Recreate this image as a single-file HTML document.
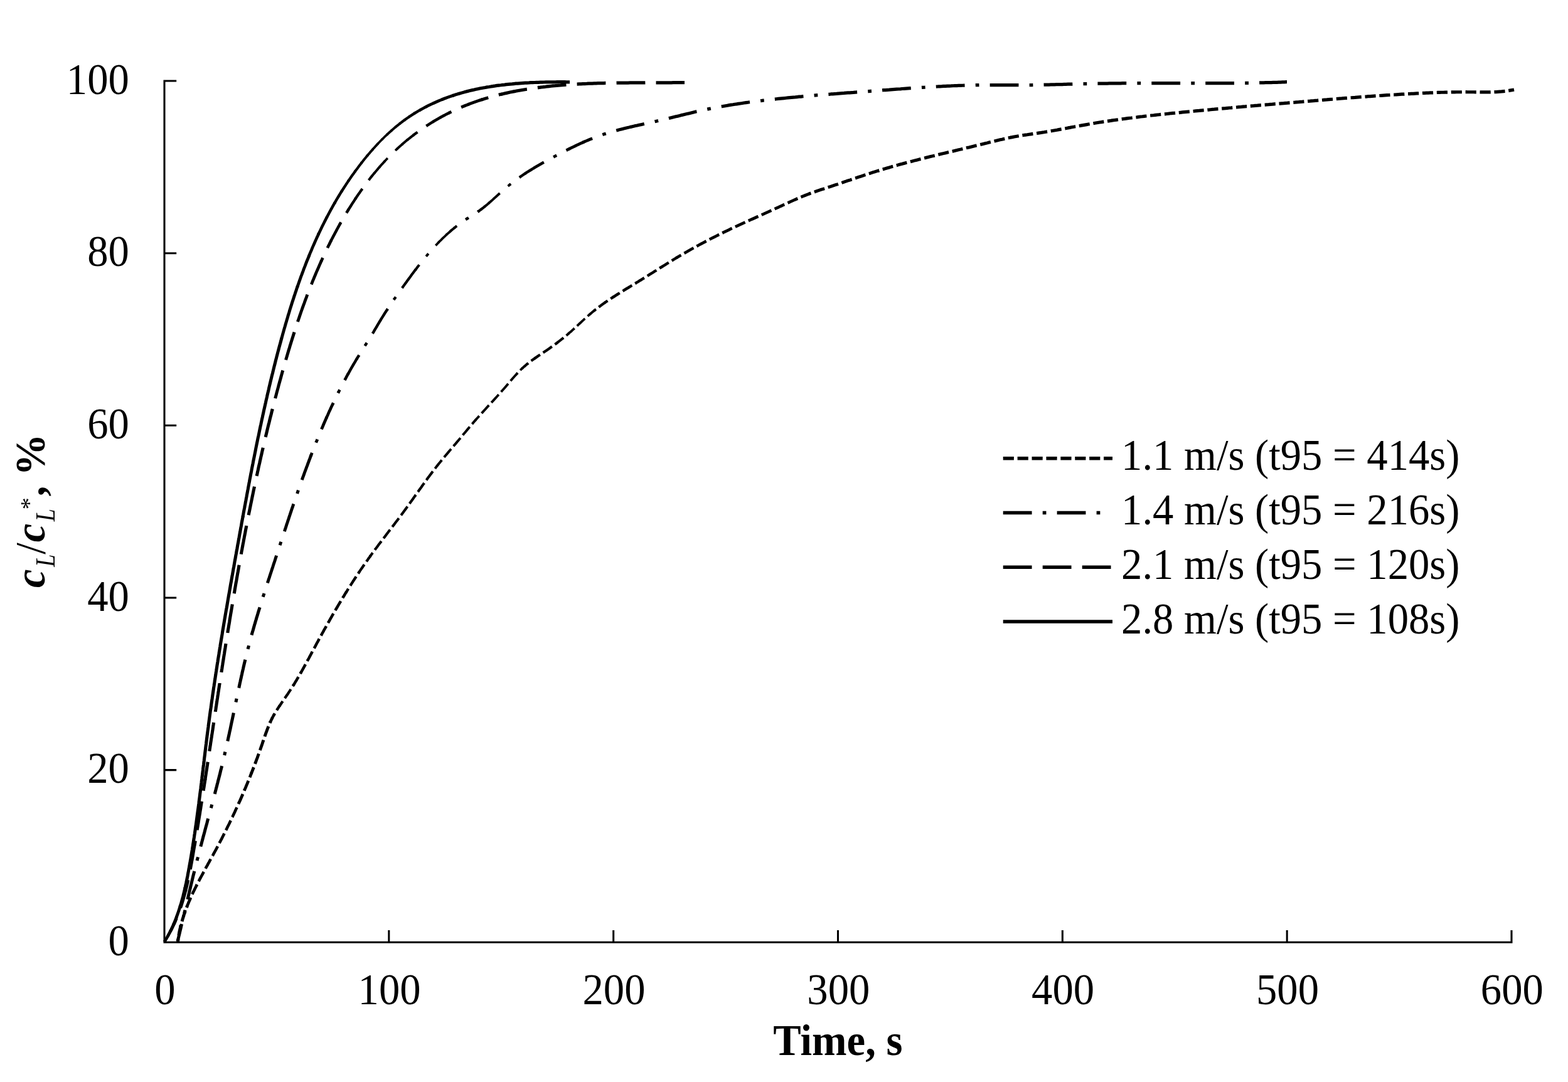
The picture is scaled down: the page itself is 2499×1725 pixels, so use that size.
<!DOCTYPE html>
<html lang="en"><head><meta charset="utf-8"><title>Oxygen saturation curves</title>
<style>html,body{margin:0;padding:0;background:#fff;overflow:hidden}svg{display:block}text{font-family:"Liberation Serif","Times New Roman",serif;fill:#000}.t{font-size:66.67px}.b{font-weight:bold}.i{font-style:italic}.c{fill:none;stroke:#000;stroke-width:5.50;stroke-linejoin:round}.ax{fill:none;stroke:#000;stroke-width:3.05}</style></head><body>
<svg xmlns="http://www.w3.org/2000/svg" width="2499" height="1725" viewBox="0 0 2499 1725">
<rect width="2499" height="1725" fill="#fff"/>
<g>
<path class="ax" stroke-linejoin="miter" d="M281.20 129.00H262.00V1502.30H2409.00V1483.10"/>
<path class="ax" d="M262.00 1227.64h19.20M262.00 952.98h19.20M262.00 678.32h19.20M262.00 403.66h19.20M619.83 1502.30v-19.20M977.67 1502.30v-19.20M1335.50 1502.30v-19.20M1693.33 1502.30v-19.20M2051.17 1502.30v-19.20"/>
<g transform="scale(1 1.0100)" fill="none" stroke="#000" stroke-linejoin="round">
<path stroke-width="5.11" stroke-dasharray="17.18 5.73" stroke-dashoffset="13.36" d="M283.5 1486.1L283.9 1483.2L284.3 1480.3L284.8 1477.3L285.3 1474.4L285.8 1471.5L286.4 1468.6L287.1 1465.7L287.8 1462.8L288.2 1460.8"/>
<path stroke-width="5.00" stroke-dasharray="17.18 5.73" stroke-dashoffset="37.13" d="M287.8 1462.8L288.5 1459.9L289.3 1457.0L290.1 1454.2L290.9 1451.3L291.8 1448.5L292.7 1445.6L293.0 1444.7"/>
<path stroke-width="4.89" stroke-dasharray="17.18 5.73" stroke-dashoffset="53.98" d="M292.4 1446.6L293.3 1443.7L294.3 1440.9L295.3 1438.1L296.3 1435.3L297.4 1432.6L298.5 1429.8"/>
<path stroke-width="4.79" stroke-dasharray="17.18 5.73" stroke-dashoffset="69.84" d="M297.7 1431.6L298.8 1428.9L300.0 1426.1L301.1 1423.4L302.3 1420.7L303.5 1417.9L304.7 1415.2L305.2 1414.3"/>
<path stroke-width="4.68" stroke-dasharray="17.18 5.73" stroke-dashoffset="86.70" d="M304.3 1416.1L305.6 1413.4L306.8 1410.7L308.1 1408.0L309.4 1405.4L310.7 1402.7L312.1 1400.0L313.4 1397.4L314.3 1395.6"/>
<path stroke-width="4.62" stroke-dasharray="17.18 5.73" stroke-dashoffset="107.53" d="M313.4 1397.4L314.8 1394.7L316.1 1392.1L317.5 1389.5L318.9 1386.8L320.3 1384.2L321.8 1381.6L323.2 1379.0L324.6 1376.4L326.0 1373.8L327.5 1371.1L328.9 1368.5L330.4 1365.9L331.8 1363.3L333.3 1360.7L334.7 1358.1L336.2 1355.5L337.6 1352.9L339.1 1350.3L340.5 1347.7L341.9 1345.1L343.4 1342.5L344.8 1339.9L346.2 1337.3L347.6 1334.6L349.0 1332.0L350.4 1329.4L351.8 1326.7L353.2 1324.1L354.5 1321.5L355.9 1318.8L357.2 1316.2L358.6 1313.5L359.9 1310.9L361.3 1308.2L362.6 1305.5L363.9 1302.9L365.3 1300.2L366.6 1297.5L367.9 1294.9L369.2 1292.2L370.5 1289.5L371.7 1286.8L373.0 1284.1L374.3 1281.4L375.5 1278.7L376.8 1276.0L378.1 1273.3L379.3 1270.6"/>
<path stroke-width="4.79" stroke-dasharray="17.18 5.73" stroke-dashoffset="248.43" d="M378.5 1272.4L379.7 1269.7L380.9 1267.0L382.2 1264.3L383.4 1261.6L384.6 1258.9L385.8 1256.2L387.0 1253.4L388.2 1250.7L389.3 1248.0L390.5 1245.2L391.7 1242.5L392.8 1239.8L394.0 1237.0L395.1 1234.3L396.3 1231.5L397.4 1228.8L398.5 1226.0L399.6 1223.2L400.7 1220.5L401.1 1219.6"/>
<path stroke-width="4.88" stroke-dasharray="17.18 5.73" stroke-dashoffset="303.97" d="M400.3 1221.4L401.4 1218.6L402.5 1215.9L403.6 1213.1L404.7 1210.3L405.8 1207.6L406.8 1204.8L407.9 1202.0L408.9 1199.2L410.0 1196.4L411.0 1193.6L412.0 1190.8L413.0 1188.0L414.0 1185.2L415.0 1182.4L416.0 1179.6L417.0 1176.8L418.0 1174.0L418.9 1171.2L419.9 1168.4L420.9 1165.6L421.9 1162.8L422.8 1160.0L423.8 1157.2L424.9 1154.4L425.9 1151.6L427.0 1148.8L428.1 1146.1L429.2 1143.3L430.4 1140.6L431.2 1138.8"/>
<path stroke-width="4.68" stroke-dasharray="17.18 5.73" stroke-dashoffset="390.22" d="M430.4 1140.6L431.7 1137.9L433.0 1135.2L434.3 1132.6"/>
<path stroke-width="4.58" stroke-dasharray="17.18 5.73" stroke-dashoffset="397.16" d="M433.4 1134.3L434.8 1131.7L436.2 1129.1L437.2 1127.3"/>
<path stroke-width="4.47" stroke-dasharray="17.18 5.73" stroke-dashoffset="403.12" d="M436.2 1129.1L437.7 1126.5L439.2 1123.9L440.8 1121.4"/>
<path stroke-width="4.37" stroke-dasharray="17.18 5.73" stroke-dashoffset="410.06" d="M439.8 1123.1L441.4 1120.6L443.0 1118.1L444.6 1115.6L446.3 1113.1"/>
<path stroke-width="4.32" stroke-dasharray="17.18 5.73" stroke-dashoffset="420.00" d="M445.2 1114.8L446.9 1112.3L448.5 1109.9L450.3 1107.4L452.0 1105.0L453.7 1102.5L455.4 1100.1L457.1 1097.6L458.8 1095.2L460.4 1092.7L462.1 1090.2L463.7 1087.7L465.3 1085.2L466.9 1082.7L468.5 1080.2"/>
<path stroke-width="4.47" stroke-dasharray="17.18 5.73" stroke-dashoffset="459.73" d="M467.5 1081.9L469.1 1079.4L470.6 1076.8L472.2 1074.3L473.7 1071.7L475.2 1069.2L476.7 1066.6L478.2 1064.0L479.7 1061.4L480.2 1060.6"/>
<path stroke-width="4.53" stroke-dasharray="17.18 5.73" stroke-dashoffset="482.56" d="M479.2 1062.3L480.7 1059.7L482.2 1057.1L483.6 1054.5L485.1 1051.9L486.5 1049.3L488.0 1046.7L489.4 1044.1L490.8 1041.5L492.3 1038.9L493.7 1036.3L495.1 1033.7L496.5 1031.1L497.9 1028.4L499.4 1025.8L500.8 1023.2L502.2 1020.6L503.6 1018.0L505.0 1015.3L506.5 1012.7L507.9 1010.1L509.3 1007.5L510.8 1004.9L512.2 1002.3L513.6 999.7L515.1 997.1L516.5 994.5L518.0 991.9L519.5 989.3L520.9 986.7L522.4 984.1L523.9 981.5L525.4 979.0L526.8 976.4L528.3 973.8L529.8 971.2L531.3 968.6L532.8 966.1L534.3 963.5L535.9 960.9L537.4 958.4L538.9 955.8L540.4 953.3L542.0 950.7L543.5 948.2L545.1 945.6L546.6 943.1L548.2 940.6L549.7 938.0L551.3 935.5L552.4 933.8"/>
<path stroke-width="4.37" stroke-dasharray="17.18 5.73" stroke-dashoffset="628.47" d="M551.3 935.5L552.9 933.0L554.5 930.4L556.1 927.9L557.7 925.4L559.3 922.9L560.9 920.4L562.5 917.9L564.2 915.4L565.8 912.9L567.5 910.4L569.1 908.0L570.8 905.5L572.4 903.0L573.0 902.2"/>
<path stroke-width="4.27" stroke-dasharray="17.18 5.73" stroke-dashoffset="666.21" d="M571.9 903.8L573.5 901.4L575.2 898.9L576.9 896.5L578.6 894.0L580.3 891.6L582.0 889.1L583.8 886.7L585.5 884.3L587.2 881.8L589.0 879.4L590.7 877.0"/>
<path stroke-width="4.18" stroke-dasharray="17.18 5.73" stroke-dashoffset="697.00" d="M589.5 878.6L591.3 876.2L593.1 873.8L594.8 871.4L596.6 869.0L598.4 866.6L600.2 864.3L602.0 861.9L603.8 859.5L605.6 857.1L607.4 854.8L609.2 852.4L611.0 850.0L612.9 847.7L614.7 845.3L616.5 842.9L618.3 840.6L620.1 838.2L622.0 835.9L623.8 833.5L625.6 831.1L627.4 828.8L629.2 826.4L631.0 824.0L632.9 821.7L634.7 819.3L636.5 816.9L638.3 814.5L640.1 812.2L641.8 809.8L643.6 807.4L645.4 805.0L647.2 802.6L648.9 800.2L650.7 797.8L652.4 795.4L654.2 792.9L655.9 790.5L657.7 788.1L659.4 785.7L661.1 783.3L662.9 780.9L664.6 778.4L666.4 776.0L668.1 773.6L669.8 771.2L671.6 768.8L673.3 766.3L675.1 763.9L676.8 761.5L678.6 759.1L680.4 756.7L682.1 754.3L683.9 751.9L685.7 749.5L687.5 747.2L689.3 744.8L691.1 742.4L693.0 740.1L693.6 739.3"/>
<path stroke-width="4.06" stroke-dasharray="17.18 5.73" stroke-dashoffset="868.91" d="M692.4 740.9L694.2 738.5L696.0 736.2L697.9 733.8L699.8 731.5L701.7 729.2L703.6 726.9L705.5 724.6"/>
<path stroke-width="3.98" stroke-dasharray="17.18 5.73" stroke-dashoffset="887.80" d="M704.2 726.1L706.1 723.9L708.0 721.6L709.9 719.3L711.9 717.0L713.8 714.7L715.7 712.5L717.7 710.2L719.6 708.0L721.6 705.7L723.5 703.4L725.5 701.2L727.4 698.9L729.3 696.6L731.3 694.3L733.2 692.1L735.1 689.8L737.0 687.5L738.9 685.2L740.9 682.9L742.8 680.6L744.7 678.4L746.6 676.1L748.6 673.8L750.5 671.6L752.5 669.3L754.4 667.0L756.4 664.8L758.3 662.6"/>
<path stroke-width="3.88" stroke-dasharray="17.18 5.73" stroke-dashoffset="969.33" d="M757.0 664.0L759.0 661.8L761.0 659.6L763.0 657.4L765.0 655.2L767.0 653.0L769.0 650.8L771.0 648.6L773.1 646.4L775.1 644.2L777.1 642.0L779.2 639.8L781.2 637.6L783.2 635.4L785.3 633.3L787.3 631.1L789.3 628.9L791.3 626.7L793.3 624.5L795.3 622.3L797.3 620.1L799.3 617.8L801.3 615.6L803.3 613.4L805.3 611.1L807.2 608.9L809.1 606.6L811.1 604.3L813.0 602.1L815.0 599.8L816.9 597.5L818.9 595.3L820.9 593.1L822.9 590.9L824.9 588.7"/>
<path stroke-width="3.74" stroke-dasharray="17.18 5.73" stroke-dashoffset="1068.79" d="M823.6 590.2L825.6 588.0L827.7 585.8L829.1 584.4"/>
<path stroke-width="3.74" stroke-dasharray="17.18 5.73" stroke-dashoffset="1074.76" d="M827.7 585.8L829.8 583.7L832.0 581.7L833.5 580.3"/>
<path stroke-width="3.87" stroke-dasharray="17.18 5.73" stroke-dashoffset="1080.73" d="M832.0 581.7L834.2 579.7L836.5 577.7L837.2 577.1"/>
<path stroke-width="3.99" stroke-dasharray="17.18 5.73" stroke-dashoffset="1085.71" d="M835.7 578.4L838.0 576.4L840.3 574.5L841.1 573.9"/>
<path stroke-width="4.10" stroke-dasharray="17.18 5.73" stroke-dashoffset="1090.69" d="M839.5 575.2L841.9 573.3L844.2 571.5L845.8 570.3"/>
<path stroke-width="4.21" stroke-dasharray="17.18 5.73" stroke-dashoffset="1096.67" d="M844.2 571.5L846.6 569.7L849.1 567.9L851.5 566.2L853.1 565.1"/>
<path stroke-width="4.26" stroke-dasharray="17.18 5.73" stroke-dashoffset="1105.63" d="M851.5 566.2L854.0 564.5L856.4 562.8L858.9 561.2L861.4 559.5L863.9 557.9L866.4 556.2L868.9 554.5L871.3 552.9L873.8 551.2L876.3 549.5L878.7 547.8L881.2 546.0L883.6 544.3L886.0 542.5L888.4 540.7"/>
<path stroke-width="4.10" stroke-dasharray="17.18 5.73" stroke-dashoffset="1148.50" d="M886.8 541.9L889.2 540.1L891.6 538.3L893.9 536.5L896.3 534.6L898.6 532.8"/>
<path stroke-width="4.00" stroke-dasharray="17.18 5.73" stroke-dashoffset="1161.45" d="M897.1 534.0L899.4 532.2L901.7 530.3L904.0 528.4L906.3 526.4L907.1 525.8"/>
<path stroke-width="3.89" stroke-dasharray="17.18 5.73" stroke-dashoffset="1172.41" d="M905.5 527.1L907.8 525.1L910.1 523.2L912.3 521.2L914.5 519.2L916.0 517.9"/>
<path stroke-width="3.84" stroke-dasharray="17.18 5.73" stroke-dashoffset="1184.36" d="M914.5 519.2L916.7 517.2L919.0 515.2L921.1 513.2L923.3 511.1L925.5 509.1L927.7 507.1L929.9 505.1L932.1 503.1L934.4 501.1L936.6 499.1L938.9 497.1L941.1 495.2"/>
<path stroke-width="4.00" stroke-dasharray="17.18 5.73" stroke-dashoffset="1218.21" d="M939.6 496.5L941.9 494.5L944.2 492.6L946.5 490.7L948.1 489.5"/>
<path stroke-width="4.10" stroke-dasharray="17.18 5.73" stroke-dashoffset="1227.17" d="M946.5 490.7L948.8 488.9L951.2 487.1L953.6 485.3L955.2 484.1"/>
<path stroke-width="4.21" stroke-dasharray="17.18 5.73" stroke-dashoffset="1236.14" d="M953.6 485.3L956.0 483.5L958.4 481.7L960.8 480.0L963.3 478.2L964.9 477.1"/>
<path stroke-width="4.31" stroke-dasharray="17.18 5.73" stroke-dashoffset="1248.10" d="M963.3 478.2L965.7 476.5L968.2 474.9L970.7 473.2L973.2 471.6L975.7 469.9L978.2 468.3"/>
<path stroke-width="4.42" stroke-dasharray="17.18 5.73" stroke-dashoffset="1264.05" d="M976.5 469.4L979.1 467.8L981.6 466.2L984.1 464.6L986.7 463.0L989.2 461.4L991.8 459.9L994.3 458.3L996.9 456.7L999.4 455.2L1002.0 453.7L1004.6 452.1L1007.1 450.6L1009.7 449.0L1012.2 447.5L1014.8 445.9L1017.4 444.4L1019.9 442.8L1022.5 441.3L1025.0 439.7L1027.6 438.1L1030.1 436.6L1032.7 435.0L1035.2 433.4L1037.7 431.8L1040.3 430.3L1042.8 428.7L1045.4 427.1L1047.9 425.5L1050.4 423.9L1053.0 422.3L1055.5 420.8L1058.1 419.2L1060.6 417.6L1063.2 416.0L1065.7 414.5L1068.3 412.9L1070.8 411.4L1073.4 409.8L1075.9 408.3L1078.5 406.7L1079.4 406.2"/>
<path stroke-width="4.51" stroke-dasharray="17.18 5.73" stroke-dashoffset="1382.73" d="M1077.7 407.3L1080.2 405.7L1082.8 404.2L1085.4 402.7L1088.0 401.2L1090.6 399.7L1093.2 398.2L1095.8 396.8L1098.4 395.3L1101.0 393.8L1103.6 392.4L1106.3 390.9L1108.9 389.5L1111.5 388.1"/>
<path stroke-width="4.61" stroke-dasharray="17.18 5.73" stroke-dashoffset="1419.65" d="M1109.8 389.0L1112.4 387.6L1115.0 386.2L1117.7 384.8L1120.3 383.4L1123.0 382.0L1125.6 380.6L1128.3 379.2L1130.9 377.9L1133.6 376.5L1136.3 375.1L1139.0 373.8L1141.6 372.5L1144.3 371.1L1147.0 369.8L1149.7 368.5"/>
<path stroke-width="4.73" stroke-dasharray="17.18 5.73" stroke-dashoffset="1462.56" d="M1147.9 369.4L1150.6 368.1L1153.3 366.8L1156.0 365.5L1158.7 364.2L1161.4 362.9L1164.1 361.6L1166.8 360.3L1169.5 359.1L1172.3 357.8L1175.0 356.6L1177.7 355.3L1180.4 354.1L1183.1 352.8L1185.9 351.6L1188.6 350.4L1191.3 349.2L1194.1 347.9L1196.8 346.7L1199.5 345.5L1202.3 344.3L1205.0 343.1L1207.8 341.8L1210.5 340.6L1213.2 339.4L1216.0 338.2L1218.7 337.0L1221.4 335.8L1224.2 334.5L1226.9 333.3L1229.6 332.1L1232.4 330.9L1235.1 329.6L1237.8 328.4L1240.6 327.2L1243.3 325.9L1246.0 324.7L1248.7 323.4L1251.5 322.2L1254.2 320.9L1256.9 319.7L1259.6 318.4L1262.4 317.2L1265.1 316.0L1267.8 314.8L1270.6 313.6L1271.5 313.2"/>
<path stroke-width="4.82" stroke-dasharray="17.18 5.73" stroke-dashoffset="1596.34" d="M1269.7 314.0L1272.4 312.8L1275.2 311.6L1278.0 310.5L1280.7 309.4L1283.5 308.3L1286.3 307.2L1289.1 306.1L1291.0 305.4"/>
<path stroke-width="4.93" stroke-dasharray="17.18 5.73" stroke-dashoffset="1617.31" d="M1289.1 306.1L1291.9 305.1L1294.7 304.1L1297.6 303.1L1300.4 302.1L1303.2 301.1L1306.1 300.2L1308.9 299.2L1311.8 298.3L1314.6 297.4L1317.5 296.4L1320.3 295.5L1323.2 294.6L1326.0 293.7L1328.9 292.7L1331.7 291.8L1334.6 290.9L1337.4 289.9L1340.3 289.0L1343.1 288.0L1345.9 287.0L1348.8 286.1L1351.6 285.1L1354.5 284.2L1357.3 283.2L1360.1 282.3L1363.0 281.3L1365.8 280.4L1368.7 279.4L1371.5 278.5L1374.4 277.5L1377.2 276.6L1380.1 275.7L1382.9 274.7L1385.8 273.8L1388.6 272.9L1391.5 272.0L1394.3 271.1L1397.2 270.2L1400.1 269.4L1401.0 269.1"/>
<path stroke-width="5.04" stroke-dasharray="17.18 5.73" stroke-dashoffset="1733.21" d="M1399.1 269.7L1402.0 268.8L1404.9 267.9L1407.7 267.1L1410.6 266.2L1413.5 265.4L1416.4 264.6L1419.2 263.7L1422.1 262.9L1425.0 262.1L1427.9 261.3L1430.8 260.5L1433.7 259.7L1436.6 259.0L1439.5 258.2L1442.4 257.4L1445.3 256.6L1448.2 255.9L1451.1 255.1L1454.0 254.4L1456.9 253.6L1459.8 252.9L1462.7 252.2L1465.6 251.4L1468.5 250.7L1471.4 250.0L1474.3 249.3L1477.2 248.5L1480.2 247.8L1483.1 247.1L1486.0 246.4L1488.9 245.7L1491.8 245.0L1494.7 244.3L1497.6 243.6L1500.6 242.9L1503.5 242.2L1506.4 241.5L1509.3 240.8L1512.2 240.1L1515.2 239.4L1518.1 238.8L1521.0 238.1L1523.9 237.4L1526.8 236.7L1529.7 236.0L1532.7 235.3L1535.6 234.6L1538.5 233.9L1541.4 233.2L1544.3 232.6L1547.3 231.9L1550.2 231.2L1553.1 230.5L1556.0 229.8L1558.9 229.1L1561.8 228.4L1564.8 227.7L1567.7 227.0L1570.6 226.3L1573.5 225.6L1576.4 224.8L1579.3 224.1L1582.2 223.4L1585.2 222.7L1588.1 222.0L1591.0 221.3L1593.9 220.6L1596.8 220.0L1599.8 219.3L1600.7 219.1"/>
<path stroke-width="5.14" stroke-dasharray="17.18 5.73" stroke-dashoffset="1939.10" d="M1598.8 219.5L1601.7 218.9L1604.6 218.2L1607.6 217.6L1610.5 217.0L1613.5 216.5L1616.4 215.9L1619.4 215.4L1622.3 214.9L1625.3 214.4L1628.2 213.9L1631.2 213.4L1634.2 213.0L1637.1 212.6L1640.1 212.1L1643.1 211.7L1646.0 211.3L1649.0 210.9L1652.0 210.4L1654.9 210.0L1657.9 209.6L1660.9 209.1L1663.8 208.7L1666.8 208.2L1669.8 207.7L1672.7 207.2L1675.7 206.7L1678.6 206.2L1681.6 205.7L1684.5 205.2L1687.5 204.6L1690.4 204.1L1693.4 203.6L1696.3 203.0L1699.3 202.5L1702.2 201.9L1705.2 201.4L1708.1 200.8L1711.1 200.3L1714.0 199.7L1717.0 199.2L1719.9 198.7L1722.9 198.1L1725.8 197.6L1728.8 197.1L1731.8 196.6L1734.7 196.1L1737.7 195.6L1740.6 195.1L1743.6 194.6L1746.5 194.1L1749.5 193.6L1752.5 193.1L1755.4 192.7L1758.4 192.2L1761.4 191.8L1764.3 191.3L1767.3 190.9L1770.3 190.5L1773.2 190.0L1776.2 189.6L1779.2 189.2L1782.1 188.8L1785.1 188.4L1788.1 188.0L1791.1 187.6L1794.0 187.2L1797.0 186.8L1800.0 186.4L1803.0 186.1L1805.9 185.7L1808.9 185.3L1811.9 185.0L1814.9 184.6L1817.9 184.2L1820.8 183.9L1823.8 183.5L1826.8 183.2L1829.8 182.9L1832.8 182.5L1835.7 182.2L1838.7 181.9L1841.7 181.5L1844.7 181.2L1847.7 180.9L1850.7 180.6L1853.6 180.3L1856.6 180.0L1859.6 179.7L1862.6 179.4L1865.6 179.0L1868.6 178.7"/>
<path stroke-width="5.18" stroke-dasharray="17.18 5.73" stroke-dashoffset="2210.06" d="M1866.6 178.9L1869.6 178.6L1872.5 178.4L1875.5 178.1L1878.5 177.8L1881.5 177.5L1884.5 177.2L1887.5 176.9L1890.5 176.6L1893.4 176.3L1896.4 176.0L1899.4 175.8L1902.4 175.5L1905.4 175.2L1908.4 174.9L1911.4 174.7L1914.3 174.4L1917.3 174.1L1920.3 173.8L1923.3 173.6L1926.3 173.3L1929.3 173.0L1932.3 172.7L1935.3 172.5L1938.3 172.2L1941.2 171.9L1944.2 171.7L1947.2 171.4L1950.2 171.1L1953.2 170.9L1956.2 170.6L1959.2 170.3L1962.2 170.1L1965.1 169.8L1968.1 169.6L1971.1 169.3L1974.1 169.0L1977.1 168.8L1980.1 168.5L1983.1 168.3L1986.1 168.0L1989.1 167.8L1992.0 167.5L1995.0 167.2L1998.0 167.0L2001.0 166.7L2004.0 166.5L2007.0 166.2L2010.0 166.0L2013.0 165.7L2016.0 165.5L2018.9 165.2L2021.9 165.0L2024.9 164.7L2027.9 164.5L2030.9 164.2L2033.9 164.0L2036.9 163.7L2039.9 163.5L2042.9 163.2L2045.9 163.0L2048.8 162.7L2051.8 162.5L2054.8 162.2L2057.8 162.0L2060.8 161.7L2063.8 161.5L2066.8 161.2L2069.8 161.0L2072.8 160.7L2075.8 160.5L2078.7 160.2L2081.7 160.0L2084.7 159.7L2087.7 159.5L2090.7 159.2L2093.7 159.0L2096.7 158.7L2099.7 158.5L2102.7 158.2L2105.7 158.0L2108.6 157.8L2111.6 157.5L2114.6 157.3L2117.6 157.0L2120.6 156.8L2123.6 156.6L2126.6 156.3L2129.6 156.1L2132.6 155.8L2135.6 155.6L2138.5 155.4L2141.5 155.1L2144.5 154.9L2147.5 154.7L2150.5 154.4L2153.5 154.2L2156.5 154.0L2159.5 153.8L2162.5 153.5L2165.5 153.3L2168.5 153.1L2171.5 152.9L2174.4 152.7L2177.4 152.5L2180.4 152.2L2183.4 152.0L2186.4 151.8L2189.4 151.6L2192.4 151.4L2195.4 151.2L2198.4 151.0L2201.4 150.8L2204.4 150.6L2207.4 150.4L2210.4 150.2L2213.4 150.0L2216.4 149.8L2219.3 149.6L2222.3 149.5L2225.3 149.3L2228.3 149.1L2231.3 148.9L2234.3 148.7L2237.3 148.6L2240.3 148.4L2243.3 148.2L2246.3 148.1L2249.3 147.9L2252.3 147.8L2255.3 147.6L2258.3 147.4L2261.3 147.3L2264.3 147.2L2267.3 147.0L2270.3 146.9L2273.3 146.7L2276.3 146.6L2279.3 146.5L2282.3 146.4L2285.3 146.3L2288.3 146.1L2291.3 146.0L2294.3 145.9L2297.3 145.8L2300.3 145.8L2303.3 145.7L2306.3 145.6L2309.3 145.5L2312.3 145.5L2315.3 145.4L2318.3 145.4L2321.3 145.3L2324.3 145.3L2327.3 145.3L2330.3 145.3L2333.3 145.2L2336.3 145.2L2339.3 145.3L2342.3 145.3L2345.3 145.3L2348.3 145.3L2351.3 145.4L2354.3 145.4L2357.3 145.4L2360.3 145.5L2363.3 145.5L2366.3 145.5L2369.3 145.5L2372.3 145.5L2375.3 145.4L2378.3 145.3L2381.3 145.2L2384.2 145.1L2387.2 144.9L2390.2 144.7L2393.2 144.5L2396.2 144.2L2399.2 143.9L2402.2 143.5L2405.1 143.0L2408.1 142.5L2411.0 142.0L2413.0 141.6"/>
<path stroke-width="5.05" stroke-dasharray="45.82 17.18 5.73 17.18" stroke-dashoffset="17.53" d="M283.0 1486.1L283.7 1483.2L284.4 1480.4L285.1 1477.5L285.8 1474.6L286.5 1471.7L287.2 1468.8L287.9 1465.9L288.6 1463.0L289.2 1460.1L289.9 1457.2L290.6 1454.3L291.3 1451.4L292.0 1448.6L292.7 1445.7L293.4 1442.8L294.1 1439.9L294.8 1437.0L295.4 1434.1L296.1 1431.2L296.8 1428.3L297.5 1425.4L298.2 1422.5L298.9 1419.6L299.6 1416.7L300.3 1413.9L301.0 1411.0L301.7 1408.1L302.4 1405.2L303.1 1402.3L303.8 1399.4L304.5 1396.5L305.2 1393.6L305.9 1390.7L306.6 1387.9L307.3 1385.0L308.0 1382.1L308.8 1379.2L309.5 1376.3L310.2 1373.4L310.9 1370.5L311.7 1367.7L312.4 1364.8L313.1 1361.9L313.9 1359.0L314.6 1356.1L315.4 1353.3L316.1 1350.4L316.9 1347.5L317.6 1344.6L318.4 1341.8L319.1 1338.9L319.9 1336.0L320.7 1333.1L321.4 1330.3L322.2 1327.4L323.0 1324.5L323.7 1321.6L324.5 1318.8L325.3 1315.9L326.1 1313.0L326.8 1310.2L327.6 1307.3L328.4 1304.4L329.2 1301.6L330.0 1298.7L330.7 1295.8L331.5 1292.9L332.3 1290.1L333.1 1287.2L333.9 1284.3L334.6 1281.5L335.4 1278.6L336.2 1275.7L337.0 1272.9L337.7 1270.0L338.5 1267.1L339.3 1264.2L340.1 1261.4L340.8 1258.5L341.6 1255.6L342.4 1252.8L343.1 1249.9L343.9 1247.0L344.6 1244.1L345.4 1241.3L346.1 1238.4L346.9 1235.5L347.6 1232.6L348.4 1229.7L349.1 1226.9L349.9 1224.0L350.6 1221.1L351.3 1218.2L352.0 1215.3L352.8 1212.5L353.5 1209.6L354.2 1206.7L354.9 1203.8L355.6 1200.9L356.3 1198.0L357.0 1195.1L357.7 1192.2L358.3 1189.3L359.0 1186.4L359.7 1183.5L360.4 1180.6L361.0 1177.7L361.7 1174.8L362.3 1171.9L363.0 1169.0L363.6 1166.1L364.2 1163.2L364.9 1160.3L365.5 1157.4L366.1 1154.5L366.8 1151.6L367.4 1148.7L368.0 1145.8L368.6 1142.9L369.2 1140.0L369.9 1137.1L370.5 1134.2L371.1 1131.3L371.7 1128.4L372.3 1125.4L372.9 1122.5L373.5 1119.6L374.2 1116.7L374.8 1113.8L375.4 1110.9L376.0 1108.0L376.6 1105.1L377.2 1102.2L377.8 1099.3L378.5 1096.4L379.1 1093.5L379.7 1090.5L380.3 1087.6L381.0 1084.7L381.6 1081.8L382.2 1078.9L382.9 1076.0L383.5 1073.1L384.2 1070.2L384.8 1067.3L385.5 1064.4L386.1 1061.5L386.8 1058.6L387.5 1055.7L388.1 1052.8L388.8 1049.9L389.5 1047.0L390.2 1044.2L390.9 1041.3L391.6 1038.4L392.3 1035.5L393.0 1032.6L393.8 1029.7L394.5 1026.8L395.2 1024.0L396.0 1021.1L396.7 1018.2L397.5 1015.3L398.3 1012.5L399.1 1009.6L399.8 1006.7L400.6 1003.9L401.4 1001.0L402.2 998.1L403.1 995.3L403.9 992.4L404.7 989.6L405.5 986.7L406.4 983.9L407.2 981.0L408.1 978.2L408.9 975.3L409.8 972.5L410.7 969.6L411.5 966.8L412.4 963.9L413.3 961.1L414.2 958.2L415.0 955.4L415.9 952.6L416.8 949.7L417.7 946.9L418.6 944.1L419.5 941.2"/>
<path stroke-width="4.92" stroke-dasharray="45.82 17.18 5.73 17.18" stroke-dashoffset="577.48" d="M418.9 943.1L419.8 940.3L420.8 937.5L421.7 934.6L422.6 931.8L423.5 929.0L424.4 926.1L425.4 923.3L426.3 920.5L427.2 917.7L428.1 914.8L429.1 912.0L430.0 909.2L430.9 906.4L431.9 903.5L432.8 900.7L433.7 897.9L434.7 895.1L435.6 892.2L436.5 889.4L437.5 886.6L438.4 883.8L439.3 880.9L440.3 878.1L441.2 875.3L442.2 872.5L443.1 869.7L444.0 866.8L445.0 864.0L445.9 861.2L446.8 858.4L447.8 855.5L448.7 852.7L449.6 849.9L450.6 847.1L451.5 844.2L452.4 841.4L453.4 838.6L454.3 835.8L455.3 833.0L456.2 830.1L457.1 827.3L458.1 824.5L459.0 821.7L460.0 818.9L460.9 816.0L461.9 813.2L462.8 810.4L463.8 807.6L464.7 804.8L465.7 801.9L466.7 799.1L467.6 796.3L468.6 793.5L469.6 790.7L470.5 787.9L471.5 785.1L472.5 782.3L473.5 779.5L474.5 776.6L475.4 773.8L476.4 771.0L477.4 768.2L478.4 765.4L479.4 762.6L480.4 759.8L481.4 757.0L482.4 754.2L483.5 751.4L484.5 748.6L485.5 745.8L486.5 743.1L487.6 740.3L488.6 737.5L489.7 734.7L490.7 731.9L491.8 729.1L492.8 726.3L493.9 723.6L494.9 720.8L496.0 718.0"/>
<path stroke-width="4.81" stroke-dasharray="45.82 17.18 5.73 17.18" stroke-dashoffset="813.45" d="M495.3 719.9L496.4 717.1L497.4 714.3L498.5 711.5L499.6 708.8L500.7 706.0L501.8 703.2L502.9 700.5L504.0 697.7L505.2 695.0L506.3 692.2L507.4 689.5L508.6 686.7L509.7 684.0L510.9 681.2L512.0 678.5L513.2 675.7L514.4 673.0L515.5 670.3L516.7 667.5L517.9 664.8L519.1 662.1L520.3 659.4L520.7 658.5"/>
<path stroke-width="4.71" stroke-dasharray="45.82 17.18 5.73 17.18" stroke-dashoffset="877.93" d="M519.9 660.3L521.1 657.6L522.4 654.9L523.6 652.1L524.8 649.4L526.1 646.7L527.3 644.0L528.6 641.3L529.9 638.7L531.2 636.0L532.4 633.3L533.7 630.6L535.0 627.9L536.4 625.3L537.7 622.6L539.0 619.9L539.5 619.0"/>
<path stroke-width="4.60" stroke-dasharray="45.82 17.18 5.73 17.18" stroke-dashoffset="921.59" d="M538.6 620.8L539.9 618.2L541.3 615.5L542.6 612.9L544.0 610.2L545.4 607.6L546.8 604.9L548.2 602.3L549.6 599.7L551.0 597.1L552.4 594.5L553.9 591.8L555.3 589.2"/>
<path stroke-width="4.50" stroke-dasharray="45.82 17.18 5.73 17.18" stroke-dashoffset="955.34" d="M554.3 591.0L555.8 588.4L557.3 585.8L558.7 583.2L560.2 580.6L561.7 578.0L563.2 575.5L564.8 572.9L566.3 570.4L567.8 567.8L569.4 565.3"/>
<path stroke-width="4.42" stroke-dasharray="45.82 17.18 5.73 17.18" stroke-dashoffset="983.14" d="M568.3 567.0L569.9 564.4L571.5 561.9L573.0 559.4L574.6 556.8L576.2 554.3L577.8 551.8L579.4 549.3L581.0 546.8L582.6 544.3L584.2 541.8L585.8 539.2L587.4 536.7L589.0 534.2L590.6 531.7L592.2 529.1L593.7 526.6L595.3 524.1L596.8 521.5L598.3 518.9L599.9 516.4L601.4 513.8L602.9 511.3L604.4 508.7L606.0 506.2L607.5 503.6L609.1 501.1L610.7 498.6L612.3 496.1L613.9 493.5L615.5 491.1L617.2 488.6L618.3 486.9"/>
<path stroke-width="4.29" stroke-dasharray="45.82 17.18 5.73 17.18" stroke-dashoffset="1075.51" d="M617.2 488.6L618.8 486.1L620.5 483.6L622.2 481.1L623.8 478.7L625.5 476.2L627.2 473.8L628.9 471.3L630.7 468.9L632.4 466.5L634.1 464.0L635.8 461.6L636.4 460.8"/>
<path stroke-width="4.20" stroke-dasharray="45.82 17.18 5.73 17.18" stroke-dashoffset="1107.31" d="M635.3 462.4L637.0 460.0L638.7 457.6L640.5 455.1L642.2 452.7L644.0 450.3L645.7 447.9L647.5 445.5L649.2 443.1L651.0 440.7L652.8 438.3L654.6 435.9L656.3 433.5L658.1 431.1L659.9 428.7L661.7 426.4L662.9 424.8"/>
<path stroke-width="4.09" stroke-dasharray="45.82 17.18 5.73 17.18" stroke-dashoffset="1152.03" d="M661.7 426.4L663.6 424.0L665.4 421.6L667.2 419.3L669.1 417.0L670.9 414.6L672.8 412.3L674.7 410.0L675.3 409.2"/>
<path stroke-width="3.99" stroke-dasharray="45.82 17.18 5.73 17.18" stroke-dashoffset="1171.92" d="M674.1 410.8L675.9 408.4L677.8 406.2L679.8 403.9L681.7 401.6L683.7 399.3L685.0 397.8"/>
<path stroke-width="3.88" stroke-dasharray="45.82 17.18 5.73 17.18" stroke-dashoffset="1186.83" d="M683.7 399.3L685.6 397.1L687.6 394.9L689.6 392.6L691.6 390.4L693.0 389.0"/>
<path stroke-width="3.78" stroke-dasharray="45.82 17.18 5.73 17.18" stroke-dashoffset="1198.77" d="M691.6 390.4L693.6 388.3L695.7 386.1L697.8 383.9L699.8 381.8"/>
<path stroke-width="3.74" stroke-dasharray="45.82 17.18 5.73 17.18" stroke-dashoffset="1208.72" d="M698.4 383.2L700.5 381.1L702.7 379.0L704.8 376.9L706.9 374.8L709.1 372.8L711.3 370.7L712.8 369.4"/>
<path stroke-width="3.88" stroke-dasharray="45.82 17.18 5.73 17.18" stroke-dashoffset="1226.64" d="M711.3 370.7L713.5 368.7L715.8 366.8L718.0 364.8L718.8 364.2"/>
<path stroke-width="3.99" stroke-dasharray="45.82 17.18 5.73 17.18" stroke-dashoffset="1234.61" d="M717.3 365.4L719.5 363.5L721.8 361.6L724.2 359.7L724.9 359.1"/>
<path stroke-width="4.09" stroke-dasharray="45.82 17.18 5.73 17.18" stroke-dashoffset="1242.58" d="M723.4 360.3L725.7 358.5L728.1 356.6L730.5 354.8L731.3 354.2"/>
<path stroke-width="4.20" stroke-dasharray="45.82 17.18 5.73 17.18" stroke-dashoffset="1250.55" d="M729.7 355.4L732.1 353.6L734.5 351.9L736.9 350.2L737.7 349.6"/>
<path stroke-width="4.31" stroke-dasharray="45.82 17.18 5.73 17.18" stroke-dashoffset="1258.53" d="M736.1 350.7L738.6 349.0L741.0 347.3L743.5 345.7L745.2 344.6"/>
<path stroke-width="4.36" stroke-dasharray="45.82 17.18 5.73 17.18" stroke-dashoffset="1267.50" d="M743.5 345.7L746.1 344.1L748.6 342.5L751.2 340.9L753.7 339.4L756.2 337.8L758.7 336.1L761.2 334.5L762.9 333.3"/>
<path stroke-width="4.21" stroke-dasharray="45.82 17.18 5.73 17.18" stroke-dashoffset="1288.45" d="M761.2 334.5L763.7 332.8L766.1 331.0L767.7 329.8"/>
<path stroke-width="4.10" stroke-dasharray="45.82 17.18 5.73 17.18" stroke-dashoffset="1294.43" d="M766.1 331.0L768.5 329.2L770.9 327.4L773.2 325.5"/>
<path stroke-width="3.99" stroke-dasharray="45.82 17.18 5.73 17.18" stroke-dashoffset="1301.41" d="M771.6 326.8L774.0 324.9L776.3 323.0L778.6 321.1L780.1 319.8"/>
<path stroke-width="3.91" stroke-dasharray="45.82 17.18 5.73 17.18" stroke-dashoffset="1310.38" d="M778.6 321.1L780.8 319.1L783.1 317.2L785.3 315.2L787.5 313.2L789.8 311.2L792.0 309.2L794.2 307.2L796.4 305.2L798.7 303.2L800.9 301.2L803.2 299.3L805.4 297.3L807.7 295.4L810.0 293.5L812.3 291.6L813.1 291.0"/>
<path stroke-width="4.10" stroke-dasharray="45.82 17.18 5.73 17.18" stroke-dashoffset="1354.20" d="M811.6 292.2L813.9 290.4L816.3 288.5L818.6 286.7L820.2 285.5"/>
<path stroke-width="4.20" stroke-dasharray="45.82 17.18 5.73 17.18" stroke-dashoffset="1363.17" d="M818.6 286.7L821.0 284.9L823.4 283.2L825.9 281.4L828.3 279.7"/>
<path stroke-width="4.30" stroke-dasharray="45.82 17.18 5.73 17.18" stroke-dashoffset="1373.14" d="M826.7 280.9L829.2 279.1L831.6 277.5L834.1 275.8L836.6 274.1L838.3 273.1"/>
<path stroke-width="4.41" stroke-dasharray="45.82 17.18 5.73 17.18" stroke-dashoffset="1385.11" d="M836.6 274.1L839.1 272.5L841.6 270.9L844.2 269.3L846.7 267.8L849.3 266.2L851.9 264.7"/>
<path stroke-width="4.51" stroke-dasharray="45.82 17.18 5.73 17.18" stroke-dashoffset="1401.07" d="M850.1 265.7L852.7 264.2L855.3 262.7L857.9 261.2L860.5 259.7L863.1 258.2L865.7 256.7L868.3 255.3L871.0 253.8L872.7 252.9"/>
<path stroke-width="4.60" stroke-dasharray="45.82 17.18 5.73 17.18" stroke-dashoffset="1425.02" d="M871.0 253.8L873.6 252.4L876.2 251.0L878.9 249.6L881.5 248.2L884.2 246.8L886.8 245.4L889.5 244.0L892.1 242.6L894.8 241.2L897.4 239.9L900.1 238.5L902.8 237.2L905.5 235.8L908.2 234.5"/>
<path stroke-width="4.71" stroke-dasharray="45.82 17.18 5.73 17.18" stroke-dashoffset="1464.95" d="M906.4 235.4L909.0 234.1L911.7 232.8L914.4 231.5L917.2 230.2L919.9 228.9L922.6 227.7L925.3 226.4L928.1 225.2L930.8 224.0"/>
<path stroke-width="4.81" stroke-dasharray="45.82 17.18 5.73 17.18" stroke-dashoffset="1489.92" d="M929.0 224.8L931.7 223.6L934.5 222.4L937.2 221.3L940.0 220.1L942.8 219.0L945.6 217.9L948.4 216.8L950.2 216.1"/>
<path stroke-width="4.91" stroke-dasharray="45.82 17.18 5.73 17.18" stroke-dashoffset="1510.89" d="M948.4 216.8L951.2 215.8L954.0 214.8L956.8 213.8L959.7 212.8L962.5 211.8L965.4 210.9L968.2 210.0L969.2 209.7"/>
<path stroke-width="5.02" stroke-dasharray="45.82 17.18 5.73 17.18" stroke-dashoffset="1530.88" d="M967.3 210.3L970.1 209.4L973.0 208.6L975.9 207.8L978.8 206.9L981.7 206.2L984.6 205.4L987.5 204.6L990.4 203.9L993.3 203.2L996.2 202.4L999.1 201.8L1002.0 201.1L1005.0 200.4L1005.9 200.2"/>
<path stroke-width="5.10" stroke-dasharray="45.82 17.18 5.73 17.18" stroke-dashoffset="1568.87" d="M1004.0 200.6L1006.9 199.9L1009.8 199.3L1012.8 198.6L1015.7 198.0L1018.6 197.3L1021.5 196.7L1024.5 196.1L1027.4 195.4L1030.3 194.8L1033.3 194.1L1036.2 193.5L1039.1 192.9L1042.1 192.2L1045.0 191.5L1047.9 190.9L1050.8 190.2L1053.8 189.5L1056.7 188.8L1059.6 188.2L1062.5 187.5L1065.4 186.8L1068.4 186.1L1071.3 185.4L1074.2 184.7L1077.1 184.0L1080.0 183.3L1082.9 182.6L1085.8 181.8L1088.8 181.1L1091.7 180.4L1094.6 179.8L1097.5 179.1L1100.4 178.4L1103.4 177.7L1106.3 177.0L1109.2 176.3L1112.1 175.7L1115.1 175.0L1118.0 174.4L1120.9 173.8L1123.9 173.1L1126.8 172.5L1129.7 171.9L1132.7 171.3L1135.6 170.7L1138.6 170.2L1141.5 169.6L1144.5 169.1L1147.4 168.5L1150.4 168.0L1153.3 167.5L1156.3 167.0L1159.2 166.5L1162.2 166.0L1165.2 165.5L1168.1 165.1L1171.1 164.6L1174.1 164.2L1177.0 163.7L1180.0 163.3L1183.0 162.9L1185.9 162.4L1188.9 162.0L1191.9 161.6L1194.9 161.2L1197.8 160.8L1200.8 160.5L1203.8 160.1L1206.8 159.7L1209.7 159.4L1212.7 159.0L1215.7 158.6L1218.7 158.3L1221.7 157.9"/>
<path stroke-width="5.19" stroke-dasharray="45.82 17.18 5.73 17.18" stroke-dashoffset="1788.87" d="M1219.7 158.2L1222.7 157.8L1225.6 157.5L1228.6 157.2L1231.6 156.8L1234.6 156.5L1237.6 156.2L1240.6 155.9L1243.5 155.6L1246.5 155.3L1249.5 155.0L1252.5 154.7L1255.5 154.4L1258.5 154.1L1261.5 153.8L1264.4 153.5L1267.4 153.3L1270.4 153.0L1273.4 152.7L1276.4 152.5L1279.4 152.2L1282.4 151.9L1285.4 151.7L1288.4 151.4L1291.3 151.2L1294.3 150.9L1297.3 150.7L1300.3 150.4L1303.3 150.2L1306.3 149.9L1309.3 149.7L1312.3 149.5L1315.3 149.2L1318.3 149.0L1321.3 148.8L1324.3 148.5L1327.2 148.3L1330.2 148.1L1333.2 147.9L1336.2 147.6L1339.2 147.4L1342.2 147.2L1345.2 147.0L1348.2 146.7L1351.2 146.5L1354.2 146.3L1357.2 146.1L1360.2 145.9L1363.2 145.6L1366.1 145.4L1369.1 145.2L1372.1 145.0L1375.1 144.8L1378.1 144.6L1381.1 144.3L1384.1 144.1L1387.1 143.9L1390.1 143.7L1393.1 143.4L1396.1 143.2L1399.1 143.0L1402.1 142.8L1405.1 142.6L1408.0 142.3L1411.0 142.1L1414.0 141.9L1417.0 141.7L1420.0 141.4L1423.0 141.2L1426.0 141.0L1429.0 140.8L1432.0 140.6L1435.0 140.4L1438.0 140.1L1441.0 139.9L1444.0 139.7L1447.0 139.5L1450.0 139.3L1452.9 139.1L1455.9 138.9L1458.9 138.7L1461.9 138.5L1464.9 138.3L1467.9 138.1L1470.9 137.9L1473.9 137.8L1476.9 137.6L1479.9 137.4L1482.9 137.2L1485.9 137.0L1488.9 136.9L1491.9 136.7L1494.9 136.6L1497.9 136.4L1500.9 136.3L1503.9 136.1L1506.9 136.0L1509.9 135.8L1512.9 135.7L1515.9 135.6L1518.9 135.4L1521.9 135.3L1524.9 135.2L1527.9 135.1L1530.9 135.0L1533.9 134.9L1536.9 134.8L1539.9 134.7L1542.9 134.7L1545.9 134.6L1548.9 134.5L1551.9 134.5L1554.9 134.4L1557.9 134.4L1560.9 134.3L1563.9 134.3L1566.9 134.3L1569.9 134.2L1572.9 134.2L1575.9 134.2L1578.9 134.2L1581.9 134.2L1584.9 134.2L1587.9 134.2L1590.9 134.2L1593.9 134.2L1596.9 134.2L1599.9 134.2L1602.9 134.2L1605.9 134.2L1608.9 134.2L1611.9 134.3L1614.9 134.3L1617.9 134.3L1620.9 134.3L1623.9 134.3L1626.9 134.3L1629.9 134.3L1632.9 134.2L1635.9 134.2L1638.9 134.2L1641.9 134.2L1644.9 134.2L1647.9 134.1L1650.9 134.1L1653.9 134.0L1656.9 134.0L1659.9 133.9L1662.9 133.9L1665.9 133.8L1668.9 133.8L1671.9 133.7L1674.9 133.6L1677.9 133.6L1680.9 133.5L1683.9 133.4L1686.9 133.3L1689.9 133.3L1692.9 133.2L1695.9 133.1L1698.9 133.0L1701.9 132.9L1704.9 132.9L1707.9 132.8L1710.9 132.7L1713.9 132.6L1716.9 132.6L1719.9 132.5L1722.9 132.4L1725.9 132.3L1728.9 132.3L1731.9 132.2L1734.9 132.2L1737.9 132.1L1740.9 132.0L1743.9 132.0L1746.9 131.9L1749.9 131.9L1752.9 131.8L1755.9 131.8L1758.9 131.8L1761.9 131.7L1764.9 131.7L1767.9 131.6L1770.9 131.6L1773.9 131.6L1776.9 131.5L1779.9 131.5L1782.9 131.5L1785.9 131.5L1788.9 131.4L1791.9 131.4L1794.9 131.4L1797.9 131.4L1800.9 131.4L1803.9 131.4L1806.9 131.3L1809.9 131.3L1812.9 131.3L1815.9 131.3L1818.9 131.3L1820.9 131.3"/>
<path stroke-width="5.20" stroke-dasharray="45.82 17.18 5.73 17.18" stroke-dashoffset="2389.08" d="M1818.9 131.3L1821.9 131.3L1824.9 131.3L1827.9 131.3L1830.9 131.3L1833.9 131.3L1836.9 131.3L1839.9 131.3L1842.9 131.3L1845.9 131.3L1848.9 131.3L1851.9 131.3L1854.9 131.3L1857.9 131.3L1861.0 131.3L1864.0 131.3L1867.0 131.3L1870.0 131.3L1873.0 131.3L1876.0 131.3L1879.0 131.3L1882.0 131.3L1885.0 131.3L1888.0 131.3L1891.0 131.3L1894.0 131.3L1897.0 131.3L1900.0 131.3L1903.0 131.3L1906.0 131.3L1909.0 131.3L1912.0 131.3L1915.0 131.3L1918.0 131.3L1921.0 131.3L1924.0 131.3L1927.0 131.3L1930.0 131.3L1933.0 131.3L1936.0 131.3L1939.0 131.3L1942.0 131.3L1945.0 131.3L1948.0 131.3L1951.0 131.3L1954.0 131.3L1957.0 131.3L1960.0 131.2L1963.0 131.2L1966.0 131.2L1969.0 131.2L1972.0 131.2L1975.0 131.1L1978.0 131.1L1981.0 131.1L1984.0 131.0L1987.0 131.0L1990.0 131.0L1993.0 130.9L1996.0 130.9L1999.0 130.8L2002.0 130.8L2005.0 130.7L2008.0 130.6L2011.0 130.6L2014.0 130.5L2017.0 130.4L2020.0 130.4L2023.0 130.3L2026.0 130.2L2029.0 130.1L2032.0 130.1L2035.0 130.0L2038.0 129.9L2041.0 129.8L2044.0 129.7L2047.0 129.6L2050.0 129.4L2051.0 129.4"/>
<path stroke-width="4.46" stroke-dasharray="45.82 17.18" stroke-dashoffset="3.66" d="M262.0 1486.6L263.6 1484.1L265.2 1481.6L266.7 1479.0L268.2 1476.5L268.7 1475.6"/>
<path stroke-width="4.58" stroke-dasharray="45.82 17.18" stroke-dashoffset="14.58" d="M267.7 1477.3L269.2 1474.7L270.6 1472.1L272.1 1469.5L273.4 1466.9"/>
<path stroke-width="4.68" stroke-dasharray="45.82 17.18" stroke-dashoffset="24.50" d="M272.5 1468.6L273.9 1466.0L275.2 1463.3L276.5 1460.6L277.7 1457.9L278.2 1457.0"/>
<path stroke-width="4.79" stroke-dasharray="45.82 17.18" stroke-dashoffset="35.42" d="M277.3 1458.8L278.6 1456.1L279.8 1453.4L280.9 1450.7L282.1 1447.9L283.2 1445.2"/>
<path stroke-width="4.89" stroke-dasharray="45.82 17.18" stroke-dashoffset="48.31" d="M282.4 1447.0L283.5 1444.3L284.6 1441.5L285.6 1438.7L286.7 1435.9L287.6 1433.1L288.6 1430.3L288.9 1429.3"/>
<path stroke-width="4.99" stroke-dasharray="45.82 17.18" stroke-dashoffset="65.16" d="M288.3 1431.2L289.2 1428.4L290.1 1425.6L291.0 1422.7L291.9 1419.9L292.7 1417.0L293.5 1414.2L294.3 1411.3L295.1 1408.4L295.8 1405.5L296.1 1404.6"/>
<path stroke-width="5.12" stroke-dasharray="45.82 17.18" stroke-dashoffset="90.93" d="M295.6 1406.5L296.3 1403.6L297.0 1400.7L297.7 1397.8L298.4 1395.0L299.1 1392.1L299.7 1389.2L300.4 1386.3L301.0 1383.3L301.6 1380.4L302.2 1377.5L302.8 1374.6L303.3 1371.7L303.9 1368.8L304.4 1365.9L305.0 1362.9L305.5 1360.0L306.1 1357.1L306.6 1354.2L307.1 1351.2L307.6 1348.3L308.1 1345.4L308.6 1342.5L309.1 1339.5L309.6 1336.6L310.2 1333.7L310.7 1330.7L311.2 1327.8L311.7 1324.9L312.2 1322.0L312.6 1319.0L313.1 1316.1L313.6 1313.2L314.1 1310.2L314.6 1307.3L315.1 1304.4L315.6 1301.4L316.1 1298.5L316.5 1295.6L317.0 1292.6L317.5 1289.7L318.0 1286.8L318.5 1283.8L318.9 1280.9L319.4 1278.0L319.9 1275.0L320.3 1272.1L320.8 1269.2L321.3 1266.2L321.8 1263.3L322.2 1260.4L322.7 1257.4L323.2 1254.5L323.6 1251.6L324.1 1248.6L324.5 1245.7L325.0 1242.8L325.5 1239.8L325.9 1236.9L326.4 1234.0L326.8 1231.0L327.1 1229.1"/>
<path stroke-width="5.11" stroke-dasharray="45.82 17.18" stroke-dashoffset="269.22" d="M326.8 1231.0L327.3 1228.1L327.7 1225.2L328.2 1222.2L328.6 1219.3L329.1 1216.3L329.6 1213.4L330.0 1210.5L330.5 1207.5L330.9 1204.6L331.4 1201.7L331.8 1198.7L332.3 1195.8L332.7 1192.8L333.2 1189.9L333.6 1187.0L334.0 1184.0L334.5 1181.1L334.9 1178.2L335.4 1175.2L335.8 1172.3L336.3 1169.3L336.7 1166.4L337.2 1163.5L337.6 1160.5L338.1 1157.6L338.5 1154.7L339.0 1151.7L339.4 1148.8L339.8 1145.8L340.3 1142.9L340.7 1140.0L341.2 1137.0L341.6 1134.1L342.1 1131.2L342.5 1128.2L343.0 1125.3L343.4 1122.3L343.9 1119.4L344.3 1116.5L344.8 1113.5L345.2 1110.6L345.7 1107.7L346.1 1104.7L346.6 1101.8L347.0 1098.9L347.5 1095.9L347.9 1093.0L348.4 1090.0L348.8 1087.1L349.3 1084.2L349.7 1081.2L350.2 1078.3L350.6 1075.4L351.1 1072.4L351.6 1069.5L352.0 1066.6L352.5 1063.6L352.9 1060.7L353.4 1057.7L353.9 1054.8L354.3 1051.9L354.8 1048.9L355.2 1046.0L355.7 1043.1L356.2 1040.1L356.6 1037.2L357.1 1034.3L357.6 1031.3L358.0 1028.4L358.5 1025.5L359.0 1022.5L359.4 1019.6L359.9 1016.7L360.4 1013.7L360.9 1010.8L361.3 1007.9L361.8 1004.9L362.3 1002.0L362.8 999.1L363.2 996.1L363.7 993.2L364.2 990.3L364.7 987.3L365.2 984.4L365.7 981.5L366.1 978.5L366.6 975.6L367.1 972.7L367.6 969.7L368.1 966.8L368.6 963.9L369.1 961.0L369.6 958.0L370.1 955.1L370.6 952.2L371.1 949.2L371.6 946.3L372.1 943.4L372.6 940.4L373.1 937.5L373.6 934.6L374.1 931.7L374.6 928.7L375.1 925.8L375.6 922.9L376.1 920.0L376.7 917.0L377.2 914.1L377.7 911.2L378.2 908.3L378.7 905.3L379.3 902.4L379.8 899.5L380.3 896.6L380.8 893.6L381.4 890.7L381.9 887.8L382.4 884.9L383.0 881.9L383.5 879.0L384.1 876.1L384.6 873.2L385.1 870.2L385.7 867.3L386.2 864.4L386.8 861.5L387.3 858.6L387.9 855.6L388.4 852.7L389.0 849.8L389.5 846.9L390.1 844.0L390.7 841.1L391.2 838.1L391.8 835.2L392.4 832.3L392.9 829.4L393.5 826.5L394.1 823.6L394.7 820.6L395.3 817.7L395.8 814.8L396.4 811.9L397.0 809.0L397.6 806.1L398.2 803.2L398.8 800.2L399.4 797.3L400.0 794.4L400.6 791.5L401.2 788.6L401.8 785.7L402.4 782.8L403.0 779.9L403.6 777.0L404.2 774.1L404.8 771.2L405.5 768.2L406.1 765.3L406.7 762.4L407.3 759.5L408.0 756.6L408.6 753.7L409.2 750.8L409.9 747.9L410.5 745.0L411.2 742.1L411.8 739.2L412.4 736.3L413.1 733.4L413.8 730.5L414.4 727.6L415.1 724.7L415.7 721.8L416.4 718.9L417.1 716.0L417.7 713.1L418.4 710.2L419.1 707.3L419.8 704.4L420.4 701.6L421.1 698.7L421.8 695.8L422.5 692.9L423.2 690.0L423.9 687.1L424.6 684.2L425.3 681.3L426.0 678.4L426.7 675.5L427.4 672.7L428.1 669.8L428.9 666.9L429.6 664.0L430.3 661.1L431.0 658.2L431.8 655.4L432.5 652.5L433.2 649.6L434.0 646.7"/>
<path stroke-width="5.00" stroke-dasharray="45.82 17.18" stroke-dashoffset="861.55" d="M433.5 648.6L434.2 645.8L435.0 642.9L435.7 640.0L436.5 637.1L437.2 634.3L438.0 631.4L438.7 628.5L439.5 625.6L440.3 622.8L441.0 619.9L441.8 617.0L442.6 614.2L443.4 611.3L444.1 608.4L444.9 605.6L445.7 602.7L446.5 599.8L447.3 597.0L448.1 594.1L448.9 591.2L449.7 588.4L450.5 585.5L451.4 582.7L452.2 579.8L453.0 576.9L453.8 574.1L454.7 571.2L455.5 568.4L456.3 565.5L457.2 562.7L458.0 559.8L458.9 557.0L459.7 554.1L460.6 551.3L461.5 548.4L462.3 545.6L463.2 542.8L464.1 539.9L465.0 537.1L465.9 534.2L466.8 531.4L467.7 528.6L468.6 525.8L469.5 522.9L470.4 520.1L471.4 517.3L472.3 514.4L472.9 512.6"/>
<path stroke-width="4.89" stroke-dasharray="45.82 17.18" stroke-dashoffset="1001.28" d="M472.3 514.4L473.2 511.6L474.2 508.8L475.1 506.0L476.1 503.2L477.1 500.4L478.0 497.6L479.0 494.8L480.0 491.9L481.0 489.1L482.0 486.3L483.0 483.5L484.0 480.8L485.1 478.0L486.1 475.2L487.1 472.4L488.2 469.6L489.2 466.8L490.3 464.0L491.4 461.3L492.4 458.5L493.5 455.7L494.6 453.0L495.0 452.0"/>
<path stroke-width="4.79" stroke-dasharray="45.82 17.18" stroke-dashoffset="1065.71" d="M494.3 453.9L495.4 451.1L496.5 448.4L497.6 445.6L498.7 442.8L499.9 440.1L501.0 437.4L502.2 434.6L503.3 431.9L504.5 429.1L505.7 426.4L506.9 423.7L508.1 421.0L509.3 418.2L510.5 415.5L511.7 412.8L512.5 411.0"/>
<path stroke-width="4.69" stroke-dasharray="45.82 17.18" stroke-dashoffset="1110.34" d="M511.7 412.8L513.0 410.1L514.2 407.4L515.5 404.7L516.7 402.0L518.0 399.3L519.3 396.6L520.6 394.0L521.9 391.3L523.2 388.6L524.6 386.0L525.9 383.3L527.2 380.7L528.2 378.9"/>
<path stroke-width="4.58" stroke-dasharray="45.82 17.18" stroke-dashoffset="1146.05" d="M527.2 380.7L528.6 378.0L530.0 375.4L531.4 372.7L532.8 370.1L534.2 367.5L535.6 364.9L537.0 362.2L538.5 359.6L539.9 357.0L541.4 354.4L542.3 352.7"/>
<path stroke-width="4.48" stroke-dasharray="45.82 17.18" stroke-dashoffset="1175.83" d="M541.4 354.4L542.8 351.9L544.3 349.3L545.8 346.7L547.3 344.1L548.8 341.6L550.4 339.0L551.9 336.5L553.5 333.9L555.0 331.4L555.6 330.6"/>
<path stroke-width="4.38" stroke-dasharray="45.82 17.18" stroke-dashoffset="1201.64" d="M554.5 332.2L556.1 329.7L557.7 327.2L559.3 324.7L560.9 322.2L562.5 319.7L564.2 317.2L565.8 314.7L567.5 312.2"/>
<path stroke-width="4.27" stroke-dasharray="45.82 17.18" stroke-dashoffset="1223.49" d="M566.4 313.9L568.0 311.4L569.7 308.9L571.4 306.5L573.1 304.1L574.8 301.6L576.6 299.2L578.3 296.8"/>
<path stroke-width="4.17" stroke-dasharray="45.82 17.18" stroke-dashoffset="1242.36" d="M577.1 298.4L578.9 296.0L580.7 293.6L582.5 291.2L584.2 288.8L586.1 286.5L587.9 284.1"/>
<path stroke-width="4.07" stroke-dasharray="45.82 17.18" stroke-dashoffset="1258.26" d="M586.7 285.7L588.5 283.3L590.3 281.0L592.2 278.6L594.1 276.3L596.0 274.0L597.3 272.5"/>
<path stroke-width="3.97" stroke-dasharray="45.82 17.18" stroke-dashoffset="1273.17" d="M596.0 274.0L597.9 271.7L599.8 269.5L601.8 267.2L603.7 264.9L605.7 262.7"/>
<path stroke-width="3.86" stroke-dasharray="45.82 17.18" stroke-dashoffset="1286.10" d="M604.4 264.2L606.3 262.0L608.3 259.7L610.4 257.5L612.4 255.3L613.7 253.9"/>
<path stroke-width="3.76" stroke-dasharray="45.82 17.18" stroke-dashoffset="1298.03" d="M612.4 255.3L614.4 253.2L616.5 251.0L618.6 248.9L620.7 246.7L621.4 246.0"/>
<path stroke-width="3.74" stroke-dasharray="45.82 17.18" stroke-dashoffset="1308.98" d="M620.0 247.4L622.1 245.3L624.2 243.2L626.3 241.1L628.5 239.1L630.7 237.0L632.8 235.0L633.6 234.3"/>
<path stroke-width="3.87" stroke-dasharray="45.82 17.18" stroke-dashoffset="1325.90" d="M632.1 235.7L634.3 233.7L636.5 231.7L638.8 229.7L641.0 227.7L641.8 227.1"/>
<path stroke-width="3.97" stroke-dasharray="45.82 17.18" stroke-dashoffset="1336.85" d="M640.3 228.4L642.5 226.4L644.8 224.5L647.1 222.6L649.4 220.7L650.2 220.1"/>
<path stroke-width="4.08" stroke-dasharray="45.82 17.18" stroke-dashoffset="1347.80" d="M648.7 221.3L651.0 219.4L653.3 217.6L655.7 215.8L658.1 213.9L659.6 212.7"/>
<path stroke-width="4.19" stroke-dasharray="45.82 17.18" stroke-dashoffset="1359.76" d="M658.1 213.9L660.4 212.1L662.8 210.4L665.3 208.6L667.7 206.9L669.3 205.7"/>
<path stroke-width="4.29" stroke-dasharray="45.82 17.18" stroke-dashoffset="1371.72" d="M667.7 206.9L670.1 205.1L672.6 203.4L675.1 201.8L677.6 200.1L680.1 198.5"/>
<path stroke-width="4.39" stroke-dasharray="45.82 17.18" stroke-dashoffset="1384.68" d="M678.4 199.6L680.9 197.9L683.4 196.3L686.0 194.7L688.5 193.2L691.1 191.6"/>
<path stroke-width="4.50" stroke-dasharray="45.82 17.18" stroke-dashoffset="1397.64" d="M689.4 192.6L691.9 191.1L694.5 189.6L697.1 188.1L699.7 186.6L702.3 185.2L703.2 184.7"/>
<path stroke-width="4.60" stroke-dasharray="45.82 17.18" stroke-dashoffset="1411.61" d="M701.5 185.6L704.1 184.2L706.7 182.8L709.4 181.4L712.0 180.0L714.7 178.7L716.5 177.8"/>
<path stroke-width="4.70" stroke-dasharray="45.82 17.18" stroke-dashoffset="1426.58" d="M714.7 178.7L717.4 177.4L720.1 176.0L722.8 174.8L725.5 173.5L728.2 172.3L731.0 171.1"/>
<path stroke-width="4.80" stroke-dasharray="45.82 17.18" stroke-dashoffset="1442.55" d="M729.2 171.9L731.9 170.7L734.6 169.5L737.4 168.3L740.2 167.2L743.0 166.1L745.8 165.0L747.6 164.3"/>
<path stroke-width="4.91" stroke-dasharray="45.82 17.18" stroke-dashoffset="1460.53" d="M745.8 165.0L748.6 163.9L751.4 162.9L754.2 161.9L757.0 160.9L759.8 159.9L762.7 158.9L765.5 158.0L768.4 157.1L769.3 156.8"/>
<path stroke-width="5.01" stroke-dasharray="45.82 17.18" stroke-dashoffset="1483.50" d="M767.4 157.4L770.3 156.5L773.2 155.6L776.0 154.8L778.9 153.9L781.8 153.1L784.7 152.3L787.6 151.6L790.5 150.8L793.4 150.1L796.3 149.3L799.2 148.6L800.2 148.4"/>
<path stroke-width="5.12" stroke-dasharray="45.82 17.18" stroke-dashoffset="1515.48" d="M798.3 148.9L801.2 148.2L804.1 147.5L807.0 146.9L810.0 146.2L812.9 145.6L815.8 145.0L818.8 144.4L821.7 143.9L824.7 143.3L827.6 142.8L830.6 142.3L833.5 141.8L836.5 141.3L839.5 140.8L842.4 140.4L845.4 139.9L848.4 139.5L851.3 139.1L854.3 138.7L857.3 138.3L859.3 138.0"/>
<path stroke-width="5.19" stroke-dasharray="45.82 17.18" stroke-dashoffset="1575.47" d="M857.3 138.3L860.2 137.9L863.2 137.6L866.2 137.2L869.2 136.9L872.2 136.5L875.2 136.2L878.1 135.9L881.1 135.6L884.1 135.4L887.1 135.1L890.1 134.8L893.1 134.6L896.1 134.3L899.1 134.1L902.1 133.9L905.0 133.7L908.0 133.5L911.0 133.3L914.0 133.1L917.0 132.9L920.0 132.8L923.0 132.6L926.0 132.5L929.0 132.3L932.0 132.2L935.0 132.1L938.0 131.9L941.0 131.8L944.0 131.7L947.0 131.6L950.0 131.5L953.0 131.4L956.0 131.4L959.0 131.3L962.0 131.2L965.0 131.1L968.0 131.1L971.0 131.0L974.0 131.0L977.0 130.9L980.0 130.9L983.0 130.8L986.0 130.8L989.0 130.8L992.0 130.7L995.0 130.7L998.0 130.7L1001.0 130.7L1004.0 130.6L1007.0 130.6L1010.0 130.6L1013.0 130.6L1016.0 130.6L1019.0 130.6L1022.0 130.6L1025.0 130.6L1028.0 130.6L1031.0 130.5L1034.0 130.5L1037.0 130.5L1040.0 130.5L1043.0 130.5L1046.0 130.5L1049.0 130.5L1052.0 130.5L1055.0 130.5L1058.0 130.5L1061.0 130.5L1064.0 130.5L1067.0 130.5L1070.0 130.5L1073.0 130.4L1076.0 130.4L1079.0 130.4L1082.0 130.4L1085.0 130.4L1088.0 130.3L1091.0 130.3"/>
<path stroke-width="4.49" d="M262.0 1486.6L263.6 1484.1L265.1 1481.6L266.6 1479.0L268.1 1476.4"/>
<path stroke-width="4.61" d="M267.1 1478.1L268.5 1475.5L269.9 1472.9L271.3 1470.2L272.2 1468.5"/>
<path stroke-width="4.71" d="M271.3 1470.2L272.6 1467.6L273.9 1464.9L275.2 1462.2L276.4 1459.5L276.8 1458.6"/>
<path stroke-width="4.82" d="M276.0 1460.4L277.2 1457.7L278.4 1454.9L279.5 1452.2L280.6 1449.4L281.7 1446.6"/>
<path stroke-width="4.92" d="M281.0 1448.5L282.0 1445.7L283.0 1442.9L284.0 1440.1L285.0 1437.3L285.9 1434.5L286.8 1431.6L287.4 1429.8"/>
<path stroke-width="5.02" d="M286.8 1431.6L287.7 1428.8L288.6 1426.0L289.4 1423.1L290.2 1420.2L291.0 1417.4L291.8 1414.5L292.5 1411.6L293.2 1408.7L293.9 1405.9L294.6 1403.0L295.1 1401.0"/>
<path stroke-width="5.14" d="M294.6 1403.0L295.3 1400.1L295.9 1397.2L296.6 1394.3L297.2 1391.4L297.8 1388.4L298.4 1385.5L299.0 1382.6L299.5 1379.7L300.1 1376.8L300.6 1373.9L301.2 1370.9L301.7 1368.0L302.2 1365.1L302.8 1362.2L303.3 1359.2L303.8 1356.3L304.3 1353.4L304.8 1350.5L305.3 1347.5L305.8 1344.6L306.3 1341.7L306.7 1338.7L307.2 1335.8L307.7 1332.9L308.1 1329.9L308.6 1327.0L309.0 1324.1L309.5 1321.1L309.9 1318.2L310.4 1315.2L310.8 1312.3L311.2 1309.4L311.6 1306.4L312.1 1303.5L312.5 1300.5L312.9 1297.6L313.3 1294.7L313.7 1291.7L314.1 1288.8L314.5 1285.8L314.9 1282.9L315.3 1279.9L315.7 1277.0L316.1 1274.0L316.5 1271.1L316.9 1268.1L317.2 1265.2L317.6 1262.3L318.0 1259.3L318.4 1256.4L318.7 1253.4L319.1 1250.5L319.5 1247.5L319.9 1244.6L320.2 1241.6L320.6 1238.7L321.0 1235.7L321.3 1232.8L321.7 1229.8L322.0 1226.9L322.4 1223.9L322.8 1221.0L323.1 1218.0L323.5 1215.1L323.8 1212.1L324.2 1209.2L324.6 1206.2L324.9 1203.3L325.3 1200.3L325.6 1197.4L326.0 1194.4L326.4 1191.5L326.7 1188.5L327.1 1185.6L327.5 1182.6L327.8 1179.7L328.2 1176.7L328.6 1173.8L328.9 1170.8L329.3 1167.9L329.7 1165.0L330.0 1162.0L330.4 1159.1L330.8 1156.1L331.2 1153.2L331.6 1150.2L332.0 1147.3L332.3 1144.3L332.7 1141.4L333.1 1138.4L333.5 1135.5L333.9 1132.5L334.3 1129.6L334.7 1126.7L335.1 1123.7L335.5 1120.8L336.0 1117.8L336.4 1114.9L336.8 1111.9L337.2 1109.0L337.6 1106.1L338.1 1103.1L338.5 1100.2L338.9 1097.2L339.3 1094.3L339.8 1091.4L340.2 1088.4L340.6 1085.5L341.1 1082.5L341.5 1079.6L342.0 1076.7L342.4 1073.7L342.9 1070.8L343.3 1067.9L343.8 1064.9L344.2 1062.0L344.7 1059.0L345.1 1056.1L345.6 1053.2L346.0 1050.2L346.5 1047.3L347.0 1044.4L347.4 1041.4L347.9 1038.5L348.4 1035.6L348.9 1032.6L349.3 1029.7L349.8 1026.8L350.3 1023.8L350.8 1020.9L351.2 1018.0L351.7 1015.0L352.2 1012.1L352.7 1009.2L353.2 1006.2L353.7 1003.3L354.2 1000.4L354.6 997.5L355.1 994.5L355.6 991.6L356.1 988.7L356.6 985.7L357.1 982.8L357.6 979.9L358.1 976.9L358.6 974.0L359.1 971.1L359.6 968.2L360.1 965.2L360.6 962.3L361.2 959.4L361.7 956.4L362.2 953.5L362.7 950.6L363.2 947.7L363.7 944.7L364.2 941.8L364.7 938.9L365.3 936.0L365.8 933.0L366.3 930.1L366.8 927.2L367.3 924.3L367.8 921.3L368.4 918.4L368.9 915.5L369.4 912.6L369.9 909.6L370.5 906.7L371.0 903.8L371.5 900.9L372.0 897.9L372.6 895.0L373.1 892.1L373.6 889.2L374.1 886.2L374.7 883.3L375.2 880.4L375.7 877.5L376.3 874.5L376.8 871.6L377.3 868.7L377.9 865.8L378.4 862.8L378.9 859.9L379.5 857.0L380.0 854.1L380.5 851.1L381.1 848.2L381.6 845.3L382.1 842.4L382.7 839.5L383.2 836.5L383.7 833.6L384.3 830.7L384.8 827.8L385.3 824.8L385.9 821.9L386.4 819.0L387.0 816.1L387.3 814.1"/>
<path stroke-width="5.08" d="M387.0 816.1L387.5 813.2L388.0 810.2L388.6 807.3L389.1 804.4L389.7 801.5L390.2 798.5L390.8 795.6L391.3 792.7L391.9 789.8L392.4 786.9L393.0 783.9L393.5 781.0L394.1 778.1L394.6 775.2L395.2 772.3L395.7 769.3L396.3 766.4L396.8 763.5L397.4 760.6L397.9 757.7L398.5 754.7L399.1 751.8L399.6 748.9L400.2 746.0L400.8 743.1L401.3 740.2L401.9 737.2L402.5 734.3L403.1 731.4L403.6 728.5L404.2 725.6L404.8 722.7L405.4 719.8L406.0 716.8L406.6 713.9L407.2 711.0L407.7 708.1L408.3 705.2L408.9 702.3L409.5 699.4L410.1 696.5L410.7 693.6L411.3 690.6L412.0 687.7L412.6 684.8L413.2 681.9L413.8 679.0L414.4 676.1L415.0 673.2L415.7 670.3L416.3 667.4L416.9 664.5L417.5 661.6L418.2 658.7L418.8 655.8L419.5 652.9L420.1 650.0L420.7 647.1L421.4 644.2L422.1 641.3L422.7 638.4L423.4 635.5L424.0 632.6L424.7 629.7L425.4 626.8L426.0 623.9L426.7 621.0L427.4 618.1L428.1 615.2L428.7 612.3L429.4 609.4L430.1 606.5L430.8 603.6L431.5 600.7L432.2 597.9L432.9 595.0L433.6 592.1L434.4 589.2L435.1 586.3L435.8 583.4L436.5 580.5L437.2 577.7L438.0 574.8L438.7 571.9L439.4 569.0L440.2 566.1L440.9 563.3L441.7 560.4L442.4 557.5L443.2 554.6L444.0 551.8L444.7 548.9L445.5 546.0L446.3 543.2L447.1 540.3L447.9 537.4L448.6 534.6L448.9 533.6"/>
<path stroke-width="4.97" d="M448.4 535.5L449.2 532.7L450.0 529.8L450.8 526.9L451.6 524.1L452.4 521.2L453.2 518.4L454.1 515.5L454.9 512.6L455.7 509.8L456.6 506.9L457.4 504.1L458.3 501.2L459.1 498.4L460.0 495.6L460.9 492.7L461.7 489.9L462.6 487.0L463.5 484.2L464.4 481.4L465.3 478.5L466.2 475.7L467.2 472.9L468.1 470.0L469.0 467.2L470.0 464.4L470.9 461.6L471.9 458.8L472.8 456.0L473.8 453.1L474.5 451.3"/>
<path stroke-width="4.87" d="M473.8 453.1L474.8 450.3L475.8 447.5L476.8 444.7L477.8 441.9L478.8 439.1L479.8 436.3L480.9 433.6L481.9 430.8L483.0 428.0L484.0 425.2L485.1 422.4L486.2 419.7L487.2 416.9L488.3 414.1L489.4 411.4L490.6 408.6L491.7 405.9L492.8 403.1"/>
<path stroke-width="4.76" d="M492.1 404.9L493.2 402.2L494.3 399.4L495.5 396.7L496.7 394.0L497.8 391.2L499.0 388.5L500.2 385.8L501.4 383.1L502.7 380.3L503.9 377.6L505.1 374.9L506.4 372.2L507.6 369.5L508.1 368.6"/>
<path stroke-width="4.66" d="M507.2 370.4L508.5 367.7L509.8 365.1L511.1 362.4L512.4 359.7L513.7 357.0L515.0 354.4L516.4 351.7L517.7 349.1L519.1 346.4L520.5 343.8L521.4 342.0"/>
<path stroke-width="4.56" d="M520.5 343.8L521.9 341.1L523.3 338.5L524.7 335.9L526.1 333.3L527.5 330.7L529.0 328.1L530.4 325.5L531.9 322.9L533.4 320.3L533.9 319.5"/>
<path stroke-width="4.46" d="M532.9 321.2L534.4 318.6L535.9 316.0L537.4 313.5L539.0 310.9L540.5 308.4L542.1 305.8L543.7 303.3L545.3 300.8"/>
<path stroke-width="4.36" d="M544.2 302.5L545.8 300.0L547.4 297.5L549.0 295.0L550.7 292.5L552.3 290.0L554.0 287.5L555.6 285.0L556.2 284.2"/>
<path stroke-width="4.25" d="M555.1 285.9L556.8 283.4L558.5 281.0L560.2 278.5L561.9 276.1L563.7 273.7L565.4 271.3L566.6 269.7"/>
<path stroke-width="4.15" d="M565.4 271.3L567.2 268.9L569.0 266.5L570.8 264.1L572.6 261.7L574.4 259.4L576.2 257.0L576.8 256.2"/>
<path stroke-width="4.05" d="M575.6 257.8L577.5 255.5L579.3 253.1L581.2 250.8L583.1 248.5L585.0 246.2L586.3 244.7"/>
<path stroke-width="3.94" d="M585.0 246.2L586.9 243.9L588.9 241.7L590.8 239.4L592.8 237.2L594.8 235.0"/>
<path stroke-width="3.84" d="M593.5 236.4L595.4 234.2L597.5 232.0L599.5 229.8L601.5 227.6L602.9 226.2"/>
<path stroke-width="3.73" d="M601.5 227.6L603.6 225.5L605.7 223.3L607.8 221.2L609.9 219.1"/>
<path stroke-width="3.73" d="M608.5 220.5L610.6 218.4L612.7 216.3L614.9 214.3L617.1 212.2L617.8 211.6"/>
<path stroke-width="3.84" d="M616.3 212.9L618.5 210.9L620.7 208.9L623.0 206.9L624.5 205.6"/>
<path stroke-width="3.94" d="M623.0 206.9L625.2 204.9L627.5 203.0L629.8 201.0L631.3 199.8"/>
<path stroke-width="4.05" d="M629.8 201.0L632.1 199.1L634.4 197.3L636.8 195.4L638.3 194.2"/>
<path stroke-width="4.15" d="M636.8 195.4L639.1 193.6L641.5 191.8L643.9 190.0L645.5 188.9"/>
<path stroke-width="4.26" d="M643.9 190.0L646.3 188.3L648.8 186.6L651.3 184.9L652.9 183.8"/>
<path stroke-width="4.36" d="M651.3 184.9L653.8 183.2L656.3 181.6L658.8 180.0L661.3 178.4"/>
<path stroke-width="4.47" d="M659.6 179.5L662.2 177.9L664.8 176.4L667.3 174.9L670.0 173.4"/>
<path stroke-width="4.57" d="M668.2 174.4L670.8 172.9L673.5 171.5L676.1 170.1L678.8 168.7L680.5 167.8"/>
<path stroke-width="4.68" d="M678.8 168.7L681.4 167.3L684.1 166.0L686.8 164.7L689.5 163.5L692.3 162.2"/>
<path stroke-width="4.78" d="M690.4 163.0L693.2 161.8L695.9 160.6L698.7 159.4L701.4 158.3L704.2 157.2L706.1 156.5"/>
<path stroke-width="4.89" d="M704.2 157.2L707.0 156.1L709.8 155.0L712.6 154.0L715.4 153.0L718.3 152.0L721.1 151.1L723.0 150.4"/>
<path stroke-width="4.99" d="M721.1 151.1L724.0 150.1L726.8 149.2L729.7 148.3L732.6 147.5L735.5 146.7L738.3 145.9L741.2 145.1L744.1 144.3L746.1 143.8"/>
<path stroke-width="5.10" d="M744.1 144.3L747.0 143.6L750.0 142.9L752.9 142.2L755.8 141.6L758.7 140.9L761.7 140.3L764.6 139.7L767.6 139.1L770.5 138.6L773.5 138.1L776.4 137.5L779.4 137.1L782.3 136.6L785.3 136.1"/>
<path stroke-width="5.19" d="M783.3 136.4L786.3 136.0L789.3 135.6L792.2 135.1L795.2 134.7L798.2 134.4L801.2 134.0L804.1 133.7L807.1 133.3L810.1 133.0L813.1 132.7L816.1 132.5L819.1 132.2L822.1 131.9L825.0 131.7L828.0 131.5L831.0 131.3L834.0 131.1L837.0 130.9L840.0 130.7L843.0 130.6L846.0 130.4L849.0 130.3L852.0 130.2L855.0 130.1L858.0 130.0L861.0 129.9L864.0 129.8L867.0 129.7L870.0 129.6L873.0 129.6L876.0 129.5L879.0 129.5L882.0 129.5L885.0 129.5L888.0 129.4L891.0 129.4L894.0 129.4L897.0 129.4L900.0 129.4L903.0 129.5L906.0 129.5L908.0 129.5"/>
</g>
<text class="t" text-anchor="end" transform="translate(205.8 1522.9) scale(1 1.035)">0</text>
<text class="t" text-anchor="end" transform="translate(205.8 1248.2) scale(1 1.035)">20</text>
<text class="t" text-anchor="end" transform="translate(205.8 973.6) scale(1 1.035)">40</text>
<text class="t" text-anchor="end" transform="translate(205.8 698.9) scale(1 1.035)">60</text>
<text class="t" text-anchor="end" transform="translate(205.8 424.3) scale(1 1.035)">80</text>
<text class="t" text-anchor="end" transform="translate(205.8 149.6) scale(1 1.035)">100</text>
<text class="t" text-anchor="middle" transform="translate(262.8 1601.4) scale(1 1.035)">0</text>
<text class="t" text-anchor="middle" transform="translate(620.6 1601.4) scale(1 1.035)">100</text>
<text class="t" text-anchor="middle" transform="translate(978.5 1601.4) scale(1 1.035)">200</text>
<text class="t" text-anchor="middle" transform="translate(1336.3 1601.4) scale(1 1.035)">300</text>
<text class="t" text-anchor="middle" transform="translate(1694.1 1601.4) scale(1 1.035)">400</text>
<text class="t" text-anchor="middle" transform="translate(2052.0 1601.4) scale(1 1.035)">500</text>
<text class="t" text-anchor="middle" transform="translate(2409.8 1601.4) scale(1 1.035)">600</text>
<text class="t b" text-anchor="middle" transform="translate(1335.4 1681.5) scale(1 1.035)">Time, s</text>
<g transform="translate(71 936.3) rotate(-90)"><text class="t b i" x="-0.7" y="0">c</text><text class="i" font-size="45" transform="translate(32.5 16) scale(0.80 1)">L</text><text class="t" x="52.5" y="0">/</text><text class="t b i" x="72.0" y="0">c</text><text class="i" font-size="45" transform="translate(105.0 16) scale(0.80 1)">L</text><text font-size="38.0" x="124.0" y="-12.5">*</text><text class="t b" x="145.0" y="0">,</text><text class="t b" x="177.7" y="0">%</text></g>
<path class="c" stroke-dasharray="17.18 5.73" d="M1598.7 730.7H1773.0"/>
<text class="t" text-anchor="start" transform="translate(1787.1 749.3) scale(1 1.035)">1.1 m/s (t95 = 414s)</text>
<path class="c" stroke-dasharray="45.82 17.18 5.73 17.18" d="M1598.7 817.5H1770.0"/>
<text class="t" text-anchor="start" transform="translate(1787.1 836.1) scale(1 1.035)">1.4 m/s (t95 = 216s)</text>
<path class="c" stroke-dasharray="45.82 17.18" d="M1598.7 904.3H1773.0"/>
<text class="t" text-anchor="start" transform="translate(1787.1 922.9) scale(1 1.035)">2.1 m/s (t95 = 120s)</text>
<path class="c" d="M1598.7 991.1H1773.0"/>
<text class="t" text-anchor="start" transform="translate(1787.1 1009.7) scale(1 1.035)">2.8 m/s (t95 = 108s)</text>
</g>
</svg></body></html>
